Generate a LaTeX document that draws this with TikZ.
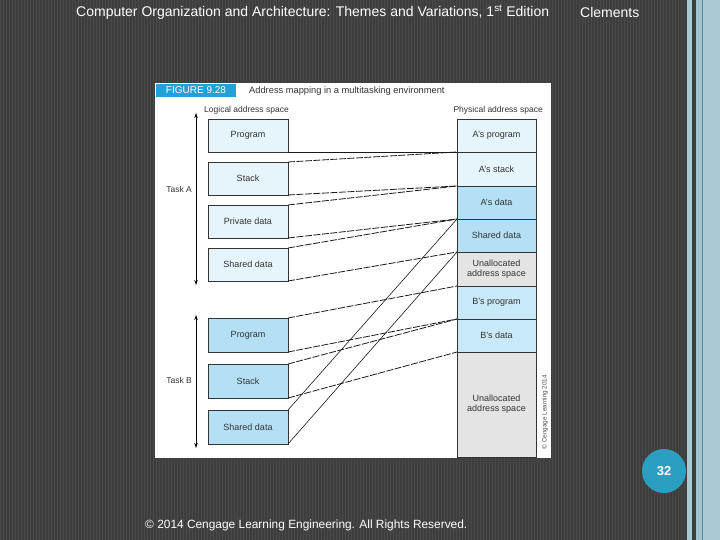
\documentclass[tikz,border=0pt]{standalone}
\usepackage{fontspec}
\setmainfont{Liberation Sans}
\usetikzlibrary{arrows.meta}
\definecolor{bgdark}{HTML}{3E3E3E}
\definecolor{bgstripe}{HTML}{484848}
\definecolor{lightA}{HTML}{E6F4FB}
\definecolor{medB}{HTML}{B3E0F5}
\definecolor{midC}{HTML}{C8E9F8}
\definecolor{unal}{HTML}{E4E4E4}
\definecolor{figblue}{HTML}{22A0D8}
\definecolor{circblue}{HTML}{2C9EC2}
\definecolor{stripA}{HTML}{A9C9D5}
\definecolor{stripB}{HTML}{9FC3CF}
\definecolor{stripC}{HTML}{5A8A9A}
\begin{document}
\begin{tikzpicture}[x=1pt,y=-1pt,
  box/.style={draw=black!80,line width=0.8pt,inner sep=0pt,outer sep=0pt,font=\fontsize{9}{10}\selectfont,text=black!80,align=center},
  lbox/.style={box,minimum width=80pt},
  pbox/.style={box,minimum width=79pt},
  mapline/.style={line width=0.8pt,draw=black!90,dash pattern=on 7pt off 1.5pt},
  shline/.style={line width=0.6pt,draw=black!90},
  tarrow/.style={line width=0.7pt,{Stealth[length=5pt,width=3.5pt]}-{Stealth[length=5pt,width=3.5pt]}},
  hdr/.style={text=white,font=\fontsize{14}{15}\selectfont,inner sep=0pt},
  small/.style={font=\fontsize{8.5}{10}\selectfont,text=black!80,inner sep=0pt}
]
\useasboundingbox (0,0) rectangle (720,540);
% background
\fill[bgdark] (0,0) rectangle (687,540);
\foreach \i in {0,3,...,686} { \fill[bgstripe] (\i,0) rectangle (\i+1,540); }
\fill[stripA] (687,0) rectangle (692,540);
\fill[bgdark] (692,0) rectangle (696,540);
\fill[stripB] (696,0) rectangle (702,540);
\fill[stripC] (702,0) rectangle (703,540);
\fill[stripA] (703,0) rectangle (720,540);
% header/footer
\node[hdr,anchor=west] (title) at (76,12) {Computer Organization and Architecture: Themes and Variations, 1\textsuperscript{st} Edition};
\node[hdr,anchor=west] (author) at (580,12) {Clements};
\node[hdr,anchor=west,font=\fontsize{11.9}{14}\selectfont] (copy) at (145,525) {© 2014 Cengage Learning Engineering. All Rights Reserved.};
\node[circle,fill=circblue,minimum size=44pt,inner sep=0pt,text=white,font=\bfseries\fontsize{13}{14}\selectfont] (page) at (664,471) {32};
% figure panel
\fill[white] (155,83) rectangle (551,458);
\node[fill=figblue,minimum width=80pt,minimum height=13pt,inner sep=0pt,text=white,font=\fontsize{10}{11}\selectfont] (fig) at (196,90.5) {FIGURE 9.28};
\node[small,anchor=west,font=\fontsize{9.3}{10}\selectfont] (ftitle) at (249,91) {Address mapping in a multitasking environment};
\node[small,anchor=west] (lspace) at (204,110) {Logical address space};
\node[small,anchor=east] (pspace) at (543,110) {Physical address space};
% logical boxes
\node[lbox,fill=lightA,minimum height=33pt] (pa) at (248,135.5) {Program};
\node[lbox,fill=lightA,minimum height=33pt] (sa) at (248,178.5) {Stack};
\node[lbox,fill=lightA,minimum height=33pt] (pda) at (248,221.5) {Private data};
\node[lbox,fill=lightA,minimum height=33pt] (sda) at (248,264.5) {Shared data};
\node[lbox,fill=medB,minimum height=34pt] (pb) at (248,335) {Program};
\node[lbox,fill=medB,minimum height=34pt] (sb) at (248,381) {Stack};
\node[lbox,fill=medB,minimum height=34pt] (sdb) at (248,427) {Shared data};
% physical boxes
\node[pbox,fill=lightA,minimum height=33pt] (ap) at (496.5,135.5) {A’s program};
\node[pbox,fill=lightA,minimum height=34pt] (as) at (496.5,169) {A’s stack};
\node[pbox,fill=medB,minimum height=33pt] (ad) at (496.5,202.5) {A’s data};
\node[pbox,fill=medB,minimum height=33pt] (sd) at (496.5,235.5) {Shared data};
\node[pbox,fill=unal,minimum height=34pt] (u1) at (496.5,269) {Unallocated\\address space};
\node[pbox,fill=midC,minimum height=33pt] (bp) at (496.5,302.5) {B’s program};
\node[pbox,fill=midC,minimum height=33pt] (bd) at (496.5,335.5) {B’s data};
\node[pbox,fill=unal,minimum height=105pt] (u2) at (496.5,404.5) {Unallocated\\address space};
% task arrows
\coordinate (taT) at (196,113);
\coordinate (taB) at (196,285);
\coordinate (tbT) at (196,315);
\coordinate (tbB) at (196,448);
\draw[tarrow] (taT) -- (taB);
\draw[tarrow] (tbT) -- (tbB);
\node[small,anchor=east] (tA) at (192,189) {Task A};
\node[small,anchor=east] (tB) at (192,380) {Task B};
% mapping lines
\draw[shline] (pa.south east) -- (ap.south west);
\draw[mapline] (sa.north east) -- (as.north west);
\draw[mapline] (sa.south east) -- (as.south west);
\draw[mapline] (pda.north east) -- (ad.north west);
\draw[mapline] (pda.south east) -- (ad.south west);
\draw[mapline] (sda.north east) -- (sd.north west);
\draw[mapline] (sda.south east) -- (sd.south west);
\draw[mapline] (pb.north east) -- (bp.north west);
\draw[mapline] (pb.south east) -- (bp.south west);
\draw[mapline] (sb.north east) -- (bd.north west);
\draw[mapline] (sb.south east) -- (bd.south west);
\draw[shline] (sdb.north east) -- (sd.north west);
\draw[shline] (sdb.south east) -- (sd.south west);
% side credit
\node[rotate=90,font=\fontsize{6.3}{7}\selectfont,text=black!70,inner sep=0pt] (credit) at (545,412) {© Cengage Learning 2014};
\end{tikzpicture}
\end{document}
